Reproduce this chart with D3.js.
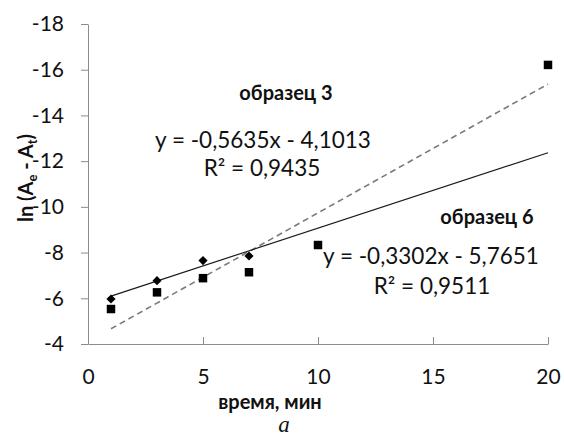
<!DOCTYPE html>
<html>
<head>
<meta charset="utf-8">
<script src="https://d3js.org/d3.v7.min.js"></script>
<style>
  body { margin: 0; background: #fff; }
  svg { font-family: "Lato", "Open Sans", sans-serif; }
  .axis path, .axis line { stroke: #8c8c8c; }
  .axis text { font-family: "Lato", sans-serif; font-size: 21px; fill: #111; }
</style>
</head>
<body>
<svg id="chart" width="564" height="439"></svg>
<script>
// time, min
var timeDiamond = [1, 3, 5, 7];
var lnDiamond = [-5.97, -6.77, -7.65, -7.85];     // образец 6
var timeSquare = [1, 3, 5, 7, 10, 20];
var lnSquare = [-5.53, -6.26, -6.88, -7.14, -8.33, -16.21]; // образец 3

// trendline coefficients [slope, intercept] and fit range
var fitSquare = [-0.5635, -4.1013];
var fitDiamond = [-0.3302, -5.7651];
var fitRange = [1, 20];

var xTicks = [0, 5, 10, 15, 20];
var yTicks = [-18, -16, -14, -12, -10, -8, -6, -4];

var svg = d3.select("#chart");
var margin = {top: 24, left: 88};
var w = 460, h = 320;

var x = d3.scaleLinear().domain([0, 20]).range([0, w]);
var y = d3.scaleLinear().domain([-18, -4]).range([0, h]);

var g = svg.append("g").attr("transform", "translate(" + margin.left + "," + margin.top + ")");

// y axis, ticks outward; plain hyphen for the minus like the original
var yAxis = g.append("g").attr("class", "axis")
  .call(d3.axisLeft(y).tickValues(yTicks).tickFormat(function(d) { return String(d); })
    .tickSize(7).tickPadding(17).tickSizeOuter(0));

// x axis, ticks pointing up
var xAxis = g.append("g").attr("class", "axis")
  .attr("transform", "translate(0," + h + ")")
  .call(d3.axisBottom(x).tickValues(xTicks).tickSize(-7).tickPadding(0).tickSizeOuter(0));
xAxis.selectAll("text").attr("dy", "0").attr("y", 40);

// trendlines
function fitLine(c) {
  return fitRange.map(function(t) { return [x(t), y(c[0] * t + c[1])]; });
}
g.append("path")
  .attr("d", d3.line()(fitLine(fitSquare)))
  .attr("fill", "none")
  .attr("stroke", "#7a7a7a")
  .attr("stroke-width", 1.6)
  .attr("stroke-dasharray", "6,4");
g.append("path")
  .attr("d", d3.line()(fitLine(fitDiamond)))
  .attr("fill", "none")
  .attr("stroke", "#1a1a1a")
  .attr("stroke-width", 1.2);

// markers
var diamond = d3.symbol().type(d3.symbolSquare).size(42);
g.selectAll(".dia").data(timeDiamond).enter().append("path")
  .attr("class", "dia")
  .attr("d", diamond)
  .attr("transform", function(d, i) { return "translate(" + x(d) + "," + y(lnDiamond[i]) + ") rotate(45)"; })
  .attr("fill", "#000");

var square = d3.symbol().type(d3.symbolSquare).size(72);
g.selectAll(".sq").data(timeSquare).enter().append("path")
  .attr("class", "sq")
  .attr("d", square)
  .attr("transform", function(d, i) { return "translate(" + x(d) + "," + y(lnSquare[i]) + ")"; })
  .attr("fill", "#000");

// annotations
function label(tx, ty, text, size, weight) {
  return svg.append("text")
    .attr("x", tx).attr("y", ty)
    .attr("text-anchor", "middle")
    .style("font-size", size + "px")
    .style("font-weight", weight || "normal")
    .style("fill", "#111")
    .text(text);
}
label(286, 100, "образец 3", 20, "bold");
label(263, 148, "y = -0,5635x - 4,1013", 22.5);
label(262, 176, "R² = 0,9435", 22.5);
label(487, 224, "образец 6", 20, "bold");
label(431, 264, "y = -0,3302x - 5,7651", 22.5);
label(432, 294, "R² = 0,9511", 22.5);

label(270, 409, "время, мин", 20, "bold");
label(284, 432, "a", 23).style("font-family", "'Liberation Serif', serif").style("font-style", "italic");

// y title
var yt = svg.append("text")
  .attr("transform", "translate(33,178) rotate(-90)")
  .attr("text-anchor", "middle")
  .style("font-size", "20px")
  .style("font-weight", "bold")
  .style("fill", "#111");
yt.append("tspan").text("ln (A");
yt.append("tspan").attr("dy", 4).style("font-size", "13px").text("e");
yt.append("tspan").attr("dy", -4).text(" - A");
yt.append("tspan").attr("dy", 4).style("font-size", "13px").text("t");
yt.append("tspan").attr("dy", -4).text(")");
</script>
</body>
</html>
